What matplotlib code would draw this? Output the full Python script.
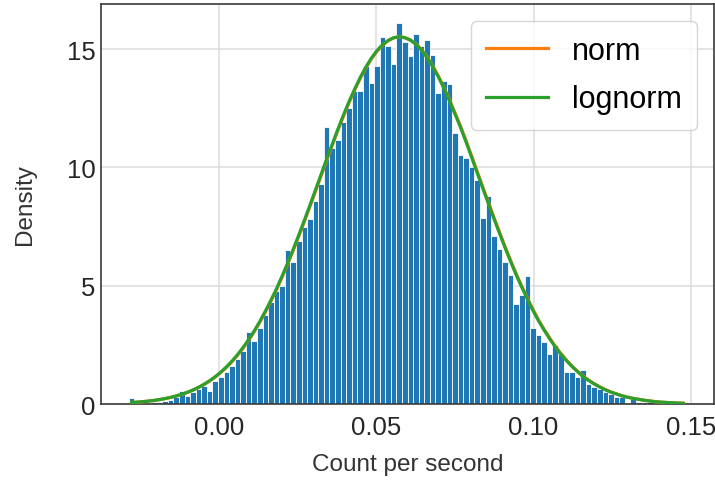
import numpy as np
import matplotlib
matplotlib.use("Agg")
import matplotlib.pyplot as plt
import matplotlib.ticker as mticker

# histogram range and bar heights (density), 100 bins
x_lo, x_hi = -0.0287, 0.1485
density = [
    0.25, 0.02, 0.04, 0.05, 0.07, 0.10, 0.12, 0.17, 0.30, 0.56,
    0.36, 0.50, 0.62, 0.75, 0.55, 0.97, 1.13, 1.34, 1.60, 1.90,
    2.25, 3.06, 2.66, 3.20, 3.75, 4.30, 4.78, 5.00, 6.50, 6.00,
    6.90, 7.50, 7.80, 8.60, 9.30, 11.70, 10.83, 11.16, 11.90, 12.50,
    13.23, 13.23, 14.27, 13.56, 14.27, 15.49, 15.11, 14.38, 16.10, 15.30,
    14.72, 15.64, 15.11, 15.39, 14.76, 13.14, 13.63, 13.53, 11.44, 10.52,
    10.40, 10.00, 9.46, 7.87, 8.80, 7.10, 6.57, 6.00, 5.44, 4.24,
    4.59, 5.39, 3.21, 2.90, 2.64, 2.12, 2.50, 2.12, 1.34, 1.37,
    1.13, 1.44, 0.85, 0.71, 0.64, 0.49, 0.42, 0.28, 0.31, 0.05,
    0.21, 0.08, 0.10, 0.10, 0.04, 0.02, 0.02, 0.01, 0.00, 0.02,
]

# fitted curves read at the bin centres
norm_pdf = [
    0.063, 0.079, 0.098, 0.122, 0.151, 0.186, 0.228, 0.277, 0.337, 0.407,
    0.489, 0.585, 0.696, 0.825, 0.972, 1.140, 1.333, 1.548, 1.791, 2.063,
    2.364, 2.697, 3.059, 3.456, 3.890, 4.350, 4.836, 5.362, 5.913, 6.495,
    7.097, 7.718, 8.354, 9.000, 9.649, 10.30, 10.93, 11.56, 12.16, 12.73,
    13.26, 13.75, 14.19, 14.58, 14.90, 15.16, 15.35, 15.47, 15.52, 15.49,
    15.39, 15.22, 14.98, 14.67, 14.30, 13.88, 13.40, 12.88, 12.32, 11.75,
    11.13, 10.49, 9.83, 9.18, 8.54, 7.89, 7.27, 6.66, 6.07, 5.51,
    4.98, 4.48, 4.00, 3.56, 3.16, 2.79, 2.45, 2.14, 1.86, 1.61,
    1.39, 1.18, 1.01, 0.86, 0.73, 0.61, 0.51, 0.43, 0.35, 0.29,
    0.24, 0.20, 0.16, 0.13, 0.10, 0.08, 0.066, 0.053, 0.042, 0.033,
]
lognorm_pdf = [
    0.064, 0.081, 0.100, 0.124, 0.154, 0.189, 0.232, 0.282, 0.343, 0.414,
    0.497, 0.594, 0.706, 0.837, 0.986, 1.156, 1.351, 1.568, 1.813, 2.088,
    2.392, 2.727, 3.092, 3.492, 3.929, 4.392, 4.880, 5.409, 5.962, 6.546,
    7.150, 7.773, 8.410, 9.056, 9.705, 10.36, 10.98, 11.61, 12.21, 12.78,
    13.30, 13.79, 14.23, 14.61, 14.93, 15.18, 15.36, 15.48, 15.52, 15.48,
    15.38, 15.20, 14.96, 14.64, 14.27, 13.84, 13.36, 12.83, 12.27, 11.70,
    11.08, 10.43, 9.77, 9.12, 8.48, 7.84, 7.22, 6.61, 6.02, 5.46,
    4.94, 4.44, 3.96, 3.52, 3.13, 2.76, 2.42, 2.11, 1.84, 1.59,
    1.37, 1.16, 0.996, 0.848, 0.719, 0.601, 0.502, 0.423, 0.344, 0.285,
    0.236, 0.196, 0.157, 0.128, 0.098, 0.078, 0.065, 0.052, 0.041, 0.032,
]

plt.rcParams['font.family'] = ['Liberation Sans', 'DejaVu Sans']

edges = np.linspace(x_lo, x_hi, len(density) + 1)
centres = (edges[:-1] + edges[1:]) / 2

fig = plt.figure(figsize=(7.15, 4.85), dpi=100)
ax = fig.add_axes([0.1413, 0.1649, 0.8573, 0.8248])

ax.bar(edges[:-1], density, width=np.diff(edges), align='edge',
       color='#1f77b4', edgecolor='white', linewidth=0.6, zorder=2)
ax.plot(centres, norm_pdf, color='#ff7f0e', lw=2.3, label='norm', zorder=3)
ax.plot(centres, lognorm_pdf, color='#2ca02c', lw=2.3, label='lognorm', zorder=4)

ax.set_axisbelow(True)
ax.grid(True, color='#dcdcdc', lw=1.1)
for s in ax.spines.values():
    s.set_color('#3a3a3a')
    s.set_linewidth(1.2)

ax.xaxis.set_major_locator(mticker.MultipleLocator(0.05))
ax.xaxis.set_major_formatter(mticker.FormatStrFormatter('%.2f'))
ax.yaxis.set_major_locator(mticker.MultipleLocator(5))
ax.tick_params(length=0, labelsize=18.5, labelcolor='#262626')
ax.tick_params(axis='x', pad=8)
ax.tick_params(axis='y', pad=4)

ax.set_xlabel('Count per second', fontsize=17.5, color='#333333', labelpad=10)
ax.set_ylabel('Density', fontsize=17.5, color='#333333', labelpad=22)

leg = ax.legend(loc='upper right', fontsize=22, fancybox=True, framealpha=0.8,
                labelspacing=0.6, borderpad=0.5, borderaxespad=0.55)
leg.get_frame().set_edgecolor('#cccccc')

fig.savefig('out.png', dpi=100)
